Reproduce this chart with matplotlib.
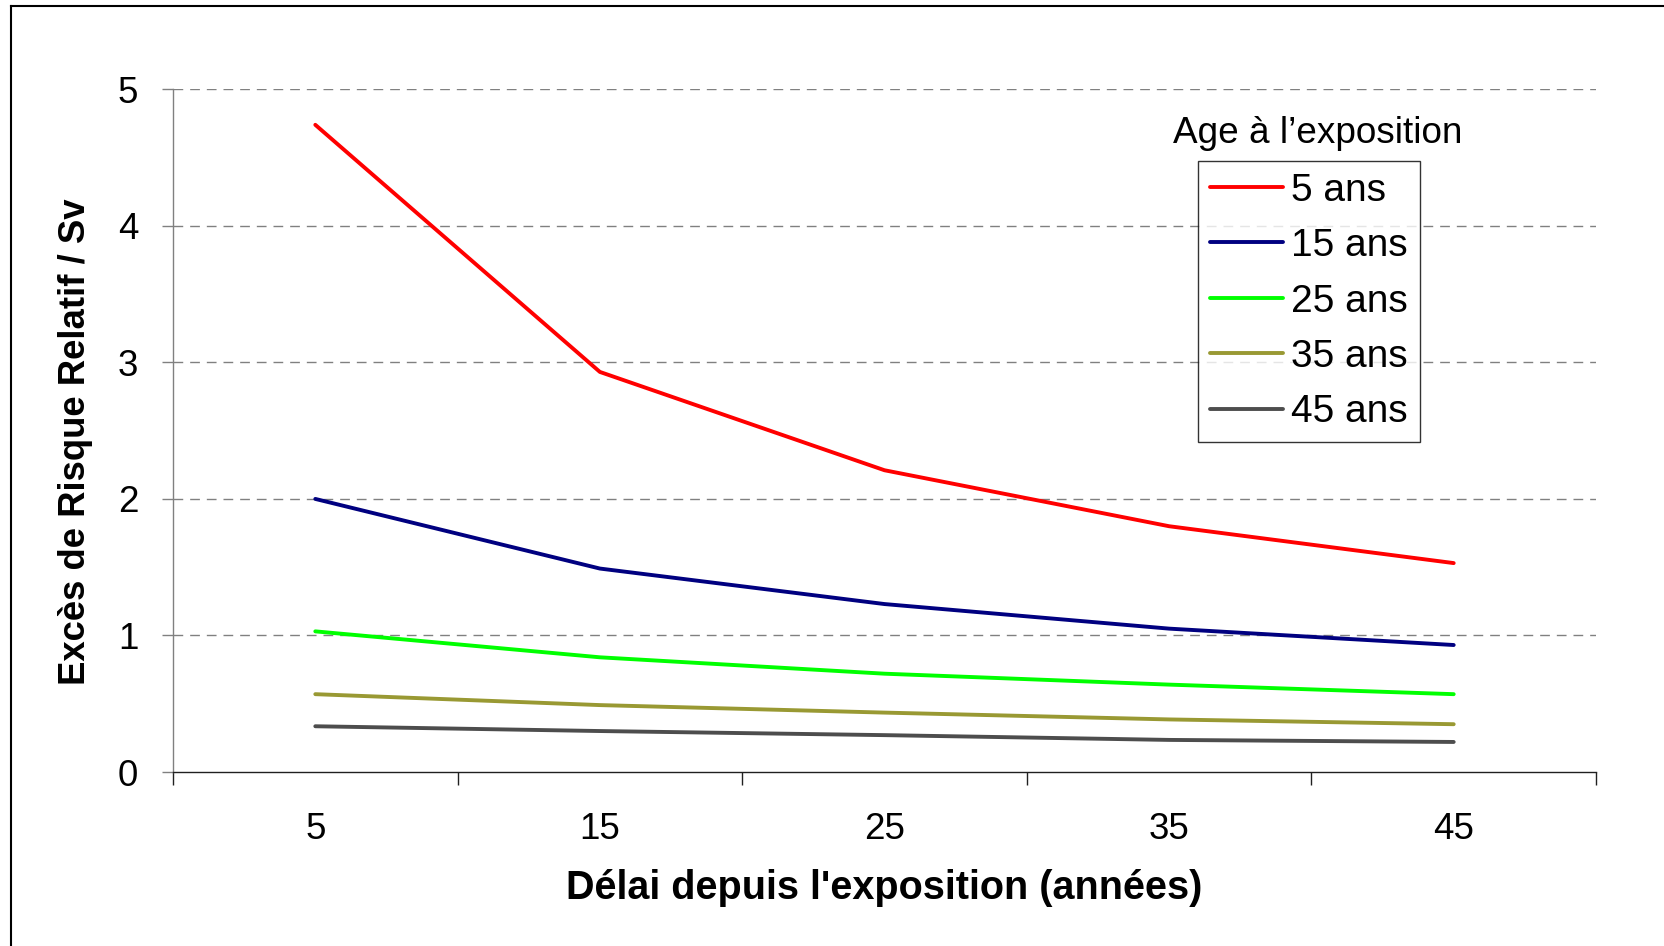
import matplotlib
matplotlib.use("Agg")
import matplotlib.pyplot as plt
from matplotlib.lines import Line2D

plt.rcParams['font.family'] = ['Liberation Sans', 'DejaVu Sans']

delais = ["5", "15", "25", "35", "45"]
series_labels = ["5 ans", "15 ans", "25 ans", "35 ans", "45 ans"]
age5 = [4.74, 2.93, 2.21, 1.80, 1.53]
age15 = [2.00, 1.49, 1.23, 1.05, 0.93]
age25 = [1.03, 0.84, 0.72, 0.64, 0.57]
age35 = [0.57, 0.49, 0.435, 0.385, 0.35]
age45 = [0.335, 0.30, 0.27, 0.235, 0.22]
colors = ["#FF0000", "#000080", "#00FF00", "#999933", "#4D4D4D"]

W, H = 1665, 946
fig = plt.figure(figsize=(W / 100, H / 100), dpi=100)
ax = fig.add_axes([173 / W, 1 - 772 / H, (1596 - 173) / W, (772 - 89.3) / H])

x = list(range(len(delais)))
for vals, lab, c in zip([age5, age15, age25, age35, age45], series_labels, colors):
    ax.plot(x, vals, color=c, lw=2.8, label=lab, solid_capstyle='round', solid_joinstyle='round')

ax.set_xlim(-0.5, len(delais) - 0.5)
ax.set_ylim(0, 5)
ax.set_yticks([0, 1, 2, 3, 4, 5])
ax.set_yticklabels(["0", "1", "2", "3", "4", "5"])
ax.set_xticks([i - 0.5 for i in range(len(delais) + 1)])
ax.set_xticklabels([])
ax.set_xticks(x, minor=True)
ax.set_xticklabels(delais, minor=True)
ax.tick_params(axis='x', which='major', direction='out', length=9, width=1, color='#202020')
ax.tick_params(axis='x', which='minor', length=0, pad=29, labelsize=26.5)
ax.tick_params(axis='y', direction='out', length=8, width=1, color='#808080', pad=17, labelsize=26.5)

for sp in ['top', 'right']:
    ax.spines[sp].set_visible(False)
ax.spines['left'].set_color('#808080')
ax.spines['left'].set_linewidth(1)
ax.spines['bottom'].set_color('#202020')
ax.spines['bottom'].set_linewidth(1)

for yv in [1, 2, 3, 4, 5]:
    ax.axhline(yv, color='#808080', lw=1, ls=(0, (7, 5)), zorder=0)

fig.text(76 / W, 1 - 442 / H, "Excès de Risque Relatif / Sv", rotation=90,
         ha='center', va='center', fontsize=26.3, fontweight='bold')
fig.text(884 / W, 1 - 888 / H, "Délai depuis l'exposition (années)",
         ha='center', va='center', fontsize=28.5, fontweight='bold')

fig.text(1173 / W, 1 - 133.8 / H, "Age à l\u2019exposition", ha='left', va='center', fontsize=26.6)
leg = ax.legend(loc='upper left', bbox_to_anchor=(1198 / W, 1 - 161 / H),
                bbox_transform=fig.transFigure, fontsize=28, frameon=True,
                fancybox=False, edgecolor='black', borderaxespad=0,
                handlelength=1.88, handletextpad=0.22, labelspacing=0.5,
                borderpad=0.3)
leg.get_frame().set_linewidth(1)

fig.add_artist(Line2D([11.5 / W, 11.5 / W], [0, 1 - 6.5 / H], transform=fig.transFigure, color='black', lw=1.5))
fig.add_artist(Line2D([11.5 / W, 1], [1 - 6.5 / H, 1 - 6.5 / H], transform=fig.transFigure, color='black', lw=1.5))

fig.savefig("out.png", dpi=100)
